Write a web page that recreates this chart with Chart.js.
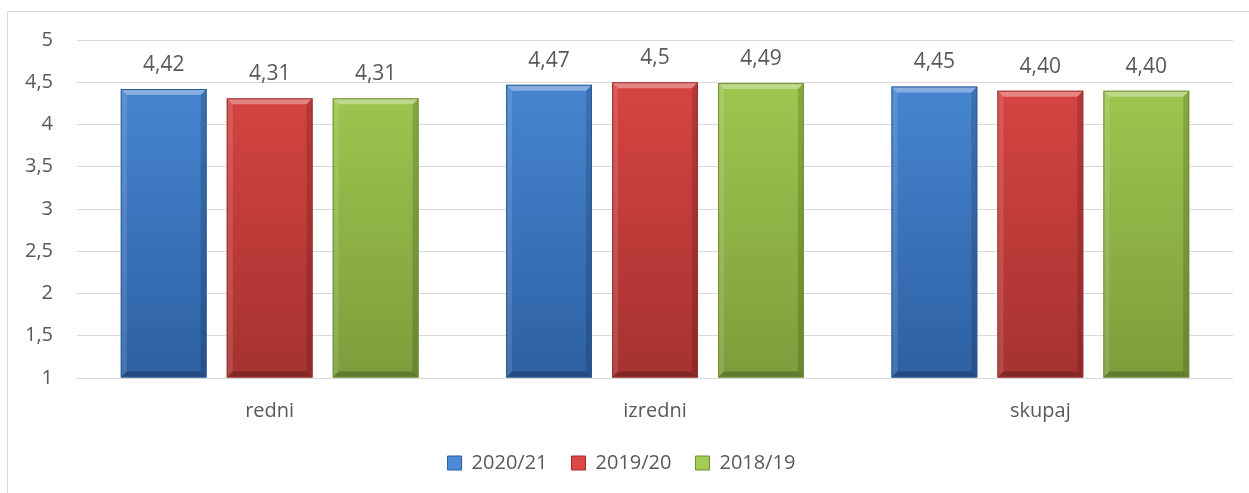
<!DOCTYPE html>
<html>
<head>
<meta charset="utf-8">
<script src="https://cdn.jsdelivr.net/npm/chart.js@4"></script>
<style>
  html, body { margin: 0; padding: 0; background: #fff; overflow: hidden; }
  #frame { position: absolute; left: 7px; top: 11px; width: 1400px; height: 700px; border: 1px solid #d9d9d9; }
  #wrap { position: absolute; left: 0; top: 0; width: 1249px; height: 493px; }
</style>
</head>
<body>
<div id="frame"></div>
<div id="wrap"><canvas id="chart"></canvas></div>
<script>
// data
const categories = ['redni', 'izredni', 'skupaj'];
const seriesNames = ['2020/21', '2019/20', '2018/19'];
const values2021 = [4.42, 4.47, 4.45];
const values1920 = [4.31, 4.50, 4.40];
const values1819 = [4.31, 4.49, 4.40];
const labels2021 = ['4,42', '4,47', '4,45'];
const labels1920 = ['4,31', '4,5', '4,40'];
const labels1819 = ['4,31', '4,49', '4,40'];
const yTickLabels = ['1', '1,5', '2', '2,5', '3', '3,5', '4', '4,5', '5'];

// colours: [top, bottom, legend/border]
const palette = [
  ['#4b8bd8', '#2d60a2', '#2a5a96'],
  ['#dd4745', '#a63230', '#9c2e2c'],
  ['#a3cd52', '#7c9d3b', '#6f8d33']
];
const textColor = '#595959';
const fontFamily = '"Open Sans", "DejaVu Sans", sans-serif';

function gradientFor(i) {
  return function(ctx) {
    const area = ctx.chart.chartArea;
    if (!area) return palette[i][0];
    const g = ctx.chart.ctx.createLinearGradient(0, area.top, 0, area.bottom);
    g.addColorStop(0, palette[i][0]);
    g.addColorStop(1, palette[i][1]);
    return g;
  };
}

// bevel + value labels drawn on top of the bars
const bevelPlugin = {
  id: 'bevel',
  afterDatasetsDraw(chart) {
    const ctx = chart.ctx;
    const allLabels = [labels2021, labels1920, labels1819];
    chart.data.datasets.forEach((ds, di) => {
      const meta = chart.getDatasetMeta(di);
      meta.data.forEach((bar, i) => {
        const l = bar.x - bar.width / 2, r = bar.x + bar.width / 2;
        const t = bar.y, b = Math.min(bar.base, chart.chartArea.bottom);
        const s = 6;
        ctx.save();
        // top
        ctx.fillStyle = 'rgba(255,255,255,0.35)';
        ctx.beginPath();
        ctx.moveTo(l, t); ctx.lineTo(r, t); ctx.lineTo(r - s, t + s); ctx.lineTo(l + s, t + s); ctx.closePath(); ctx.fill();
        // left
        ctx.fillStyle = 'rgba(255,255,255,0.12)';
        ctx.beginPath();
        ctx.moveTo(l, t); ctx.lineTo(l + s, t + s); ctx.lineTo(l + s, b - s); ctx.lineTo(l, b); ctx.closePath(); ctx.fill();
        // right
        ctx.fillStyle = 'rgba(0,0,0,0.15)';
        ctx.beginPath();
        ctx.moveTo(r, t); ctx.lineTo(r - s, t + s); ctx.lineTo(r - s, b - s); ctx.lineTo(r, b); ctx.closePath(); ctx.fill();
        // bottom
        ctx.fillStyle = 'rgba(0,0,0,0.22)';
        ctx.beginPath();
        ctx.moveTo(l, b); ctx.lineTo(l + s, b - s); ctx.lineTo(r - s, b - s); ctx.lineTo(r, b); ctx.closePath(); ctx.fill();
        // outline
        ctx.strokeStyle = palette[di][2];
        ctx.lineWidth = 1;
        ctx.strokeRect(l + 0.5, t + 0.5, r - l - 1, b - t - 1);
        ctx.restore();

        ctx.save();
        ctx.fillStyle = textColor;
        ctx.font = '21px ' + fontFamily;
        ctx.textAlign = 'center';
        ctx.textBaseline = 'middle';
        ctx.fillText(allLabels[di][i], bar.x, t - 24);
        ctx.restore();
      });
    });
  }
};

new Chart(document.getElementById('chart'), {
  type: 'bar',
  data: {
    labels: categories,
    datasets: [
      { label: seriesNames[0], data: values2021, base: 1, backgroundColor: gradientFor(0) },
      { label: seriesNames[1], data: values1920, base: 1, backgroundColor: gradientFor(1) },
      { label: seriesNames[2], data: values1819, base: 1, backgroundColor: gradientFor(2) }
    ]
  },
  options: {
    responsive: true,
    maintainAspectRatio: false,
    animation: false,
    layout: { padding: { left: 10, right: 16, top: 40, bottom: 10 } },
    categoryPercentage: 0.825,
    barPercentage: 0.81,
    scales: {
      x: {
        grid: { display: false },
        border: { display: false },
        ticks: { color: textColor, font: { family: fontFamily, size: 20 }, padding: 13 },
        afterFit(scale) { scale.height = 51; }
      },
      y: {
        min: 1,
        max: 5,
        ticks: {
          stepSize: 0.5,
          color: textColor,
          font: { family: fontFamily, size: 20 },
          padding: 24,
          callback: (v, i) => yTickLabels[i]
        },
        grid: { color: '#d9d9d9', lineWidth: 1, drawTicks: false },
        border: { display: false },
        afterFit(scale) { scale.width = 67; }
      }
    },
    plugins: {
      tooltip: { enabled: false },
      legend: {
        position: 'bottom',
        labels: {
          color: textColor,
          font: { family: fontFamily, size: 20 },
          boxWidth: 14,
          boxHeight: 14,
          padding: 24,
          generateLabels(chart) {
            return Chart.defaults.plugins.legend.labels.generateLabels(chart).map((item, i) => {
              item.fillStyle = palette[i][0];
              item.strokeStyle = palette[i][2];
              item.lineWidth = 1;
              return item;
            });
          }
        }
      }
    }
  },
  plugins: [bevelPlugin]
});
</script>
</body>
</html>
